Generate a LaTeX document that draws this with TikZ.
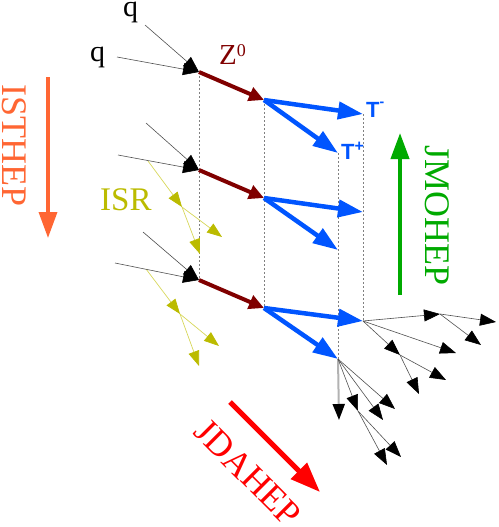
\documentclass[tikz,border=0pt]{standalone}
\usepackage{fontspec}
\setmainfont{Liberation Serif}
\newfontfamily\tausf{Liberation Sans}
\usetikzlibrary{arrows.meta}
\definecolor{zred}{RGB}{128,0,0}
\definecolor{tblue}{RGB}{0,85,255}
\definecolor{isrc}{RGB}{187,187,0}
\definecolor{isrl}{RGB}{215,215,90}
\definecolor{orng}{RGB}{255,102,51}
\definecolor{grn}{RGB}{0,170,0}
\definecolor{jred}{RGB}{255,0,0}
\definecolor{dgray}{RGB}{80,80,80}
\begin{document}
\begin{tikzpicture}[x=1pt,y=-1pt,
  dline/.style={draw=gray,line width=0.6pt,dash pattern=on 2pt off 2pt},
  quark/.style={draw=dgray,line width=0.6pt,-{Triangle[length=16pt,width=12pt,color=black]}},
  frag/.style={draw=dgray,line width=0.6pt,-{Triangle[length=16pt,width=12pt,color=black]}},
  fragthick/.style={draw=black!30,line width=2pt,-{Triangle[length=16pt,width=12pt,color=black]}},
  isr/.style={draw=isrl,line width=0.7pt,-{Triangle[length=15pt,width=11pt,color=isrc]}},
  zarrow/.style={draw=zred,line width=4pt,-{Triangle[length=15pt,width=14pt]}},
  tarrow/.style={draw=tblue,line width=4.5pt,-{Triangle[length=25pt,width=17pt]}},
  bigarrow/.style={line width=4pt,-{Triangle[length=26pt,width=18pt]}},
  lbl/.style={inner sep=0pt,anchor=base west},
  big/.style={inner sep=0pt,font=\fontsize{36}{36}\selectfont},
  taulbl/.style={inner sep=0pt,anchor=base west,text=tblue,font=\tausf\bfseries\fontsize{22}{22}\selectfont}
]
\useasboundingbox (0,0) rectangle (498,527);

% vertices
\coordinate (q1a) at (145,25);  \coordinate (q1b) at (117,57);
\coordinate (V1) at (199,72);   \coordinate (Z1) at (264,100);
\coordinate (tm1) at (363,114); \coordinate (tp1) at (338,153);
\coordinate (q2a) at (146,123); \coordinate (q2b) at (118,155);
\coordinate (V2) at (199,170);  \coordinate (Z2) at (264,198);
\coordinate (tm2) at (363,212); \coordinate (tp2) at (338,250);
\coordinate (q3a) at (143,232); \coordinate (q3b) at (115,263);
\coordinate (V3) at (199,280);  \coordinate (Z3) at (264,308);
\coordinate (tm3) at (363,321); \coordinate (tp3) at (338,359);

% dashed guides
\draw[dline] (V1) -- (V3);
\draw[dline] (Z1) -- (Z3);
\draw[dline] (tp1) -- (tp3);
\draw[dline] (tm1) -- (tm3);

% ISR
\coordinate (i2s) at (148,161); \coordinate (i2v) at (182,207);
\coordinate (i2a) at (222,237); \coordinate (i2b) at (200,254);
\coordinate (i3s) at (146,269); \coordinate (i3v) at (180,314);
\coordinate (i3a) at (219,346); \coordinate (i3b) at (199,366);
\draw[isr] (i2s) -- (i2v);
\draw[isr] (i2v) -- (i2a);
\draw[isr] (i2v) -- (i2b);
\draw[isr] (i3s) -- (i3v);
\draw[isr] (i3v) -- (i3a);
\draw[isr] (i3v) -- (i3b);

% quarks
\draw[quark] (q1a) -- (V1); \draw[quark] (q1b) -- (V1);
\draw[quark] (q2a) -- (V2); \draw[quark] (q2b) -- (V2);
\draw[quark] (q3a) -- (V3); \draw[quark] (q3b) -- (V3);

% Z0
\draw[zarrow] (V1) -- (Z1);
\draw[zarrow] (V2) -- (Z2);
\draw[zarrow] (V3) -- (Z3);

% taus
\draw[tarrow] (Z1) -- (tm1); \draw[tarrow] (Z1) -- (tp1);
\draw[tarrow] (Z2) -- (tm2); \draw[tarrow] (Z2) -- (tp2);
\draw[tarrow] (Z3) -- (tm3); \draw[tarrow] (Z3) -- (tp3);

% tau- decay
\coordinate (a1) at (440,314); \coordinate (a1a) at (496,322); \coordinate (a1b) at (481,345);
\coordinate (a2) at (456,353);
\coordinate (a3) at (400,355); \coordinate (a3a) at (446,380); \coordinate (a3b) at (419,394);
\draw[frag] (tm3) -- (a1); \draw[frag] (a1) -- (a1a); \draw[frag] (a1) -- (a1b);
\draw[frag] (tm3) -- (a2);
\draw[frag] (tm3) -- (a3); \draw[frag] (a3) -- (a3a); \draw[frag] (a3) -- (a3b);

% tau+ decay
\coordinate (b0) at (339,420); \coordinate (b1) at (395,409); \coordinate (b2) at (383,420);
\coordinate (b3) at (358,411); \coordinate (b3a) at (401,457); \coordinate (b3b) at (387,465);
\draw[fragthick] (tp3) -- (b0);
\draw[frag] (tp3) -- (b1);
\draw[frag] (tp3) -- (b2);
\draw[frag] (tp3) -- (b3); \draw[frag] (b3) -- (b3a); \draw[frag] (b3) -- (b3b);

% big arrows
\coordinate (is1) at (48,77);  \coordinate (is2) at (48,238);
\coordinate (jm1) at (400,295); \coordinate (jm2) at (400,133);
\coordinate (jd1) at (230,402); \coordinate (jd2) at (320,492);
\draw[bigarrow,draw=orng,line width=3.5pt] (is1) -- (is2);
\draw[bigarrow,draw=grn] (jm1) -- (jm2);
\draw[bigarrow,draw=jred,line width=5pt,-{Triangle[length=30pt,width=22pt]}] (jd1) -- (jd2);

% labels
\node[lbl,font=\fontsize{30}{30}\selectfont] (lq1) at (123,17) {q};
\node[lbl,font=\fontsize{30}{30}\selectfont] (lq2) at (90,62) {q};
\node[lbl,text=zred,font=\fontsize{29}{29}\selectfont] (lz) at (219,65) {Z\raisebox{9pt}{\fontsize{18}{18}\selectfont 0}};
\node[lbl,text=isrc,font=\fontsize{33}{33}\selectfont] (lisr) at (100,210) {ISR};
\node[taulbl] (ltm) at (366,117) {Τ\raisebox{10pt}{\fontsize{14}{14}\selectfont -}};
\node[taulbl] (ltp) at (341,159) {Τ\raisebox{8pt}{\fontsize{16}{16}\selectfont +}};
\node[big,text=orng,rotate=-90] (listhep) at (14,146) {ISTHEP};
\node[big,text=grn,rotate=-90] (ljmohep) at (437,216) {JMOHEP};
\node[big,text=jred,rotate=-45] (ljdahep) at (248,473) {JDAHEP};
\end{tikzpicture}
\end{document}
